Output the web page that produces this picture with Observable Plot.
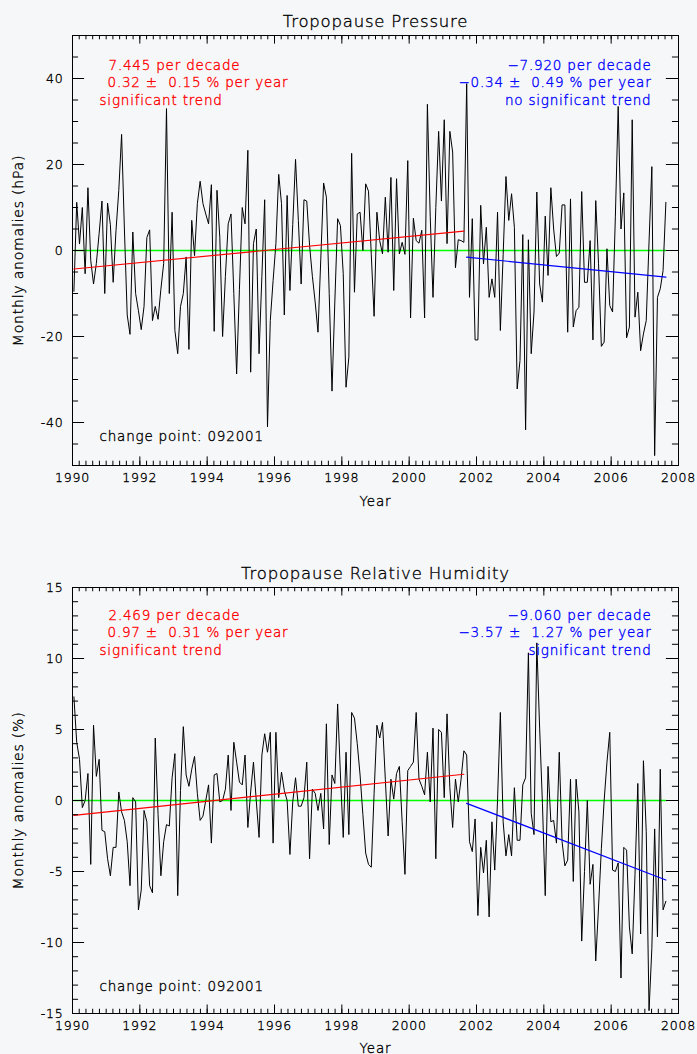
<!DOCTYPE html>
<html><head><meta charset="utf-8">
<script src="https://cdn.jsdelivr.net/npm/d3@7"></script>
<script src="https://cdn.jsdelivr.net/npm/@observablehq/plot@0.6"></script>
<style>
html,body{margin:0;padding:0;background:#f6f7f9;}
#chart{width:697px;}
svg{display:block;}
svg text{white-space:pre;letter-spacing:0.8px;}
</style></head><body><div id="chart"></div>
<script>
const startYear = 1990;
const changeIndex = 140; // Sep 2001
const xMajorTicks = [1990, 1992, 1994, 1996, 1998, 2000, 2002, 2004, 2006, 2008];
const pressureTicks = [-40, -20, 0, 20, 40];
const humidityTicks = [-15, -10, -5, 0, 5, 10, 15];

const pressure = [
  -9.5, 11.2, 1.5, 10, -5.4, 14.6, -2.3, -7.8, -3, 4, 11.5, -10,
  11, 6, -7.4, 4.6, 14, 27, 5, -15, -19.5, 4.3, -10, -14,
  -18.4, -13, 3, 4.8, -16.3, -13, -16, -9, -3, 33, -10, 8.9,
  -18.6, -24, -13, -10, -1.5, -23, 7, -1.2, 10.9, 16.1, 10.9, 8.5,
  6.2, 15.3, -18.8, 14, 3.1, -20, -6, 6.2, 8.5, -10, -28.7, -9,
  10, 6.2, 23.3, -28.3, 1.6, 5, -24, -6, 11.8, -41, -16.3, -7,
  1.6, 17.7, 10.9, -15, 12.8, -9.3, 6, 21.2, 7, -7.8, 11.8, 11.5,
  1.2, -6, -12, -19, -2, 15.7, 12.4, -10, -32.7, -12, 7.4, 5.8,
  -5.4, -31.8, -24.8, 22.6, -9.7, 8.5, 8.9, 0, 15.5, 13.8, -1, -15.3,
  8.9, 2.3, -0.8, 12.4, -0.4, 17, -9.3, 16.7, -0.8, 1.9, -0.9, 20.9,
  -15.7, 7.5, 2.3, 1.7, 4.7, -15.7, 34, 8, -10.9, 10, 27.7, 11.5,
  30.4, 1.6, 27.7, 22.9, -4, 2.5, 2.3, 1.9, 38.8, -10.9, 7.4, -20.8,
  -20.8, 10.5, -3.1, 5.4, -10.9, -6.6, -10.9, 8.9, -18.6, -1, 17.2, 7,
  13.2, 5.4, -32.2, -25.6, 3.7, -41.7, 2.5, -24, -14.3, 13.6, -7.8, -12,
  8, -5.8, 14.6, 5, -1.4, -0.6, 10.6, 10.6, -19, 12, -17.8, -14,
  -13.2, 13.7, -7.4, -7.4, 2.3, -20.8, 11.6, -3.1, -22.3, -21.3, 0.4, -12.8,
  -14.3, 8, 33.5, 5, 13.4, -20.3, -17.8, 30.4, -15.5, -9.7, -23.3, -19.4,
  -16.3, 2, 19.5, -47.7, -10.9, -8.9, -4.7, 11.2
];

const humidity = [
  7.3, 4.1, 2.9, -0.5, 0, 1.9, -4.5, 5.3, 1.7, 2.9, -2.1, -2.2,
  -4.1, -5.3, -3.3, -3.3, 0.6, -0.8, -1.4, -2.9, -6, 0.2, -0.1, -7.7,
  -6.3, -0.7, -1.5, -6, -6.5, 4.4, -1, -5.3, -2.9, -1.7, -1.8, 1.6,
  3.3, -6.7, 0.7, 5.2, 1.8, 1, 2.2, 3.1, 0.5, -1.4, -1.1, 0,
  1.1, -3, 1.8, 1.9, -0.1, 0, 0.8, 3.2, -0.7, 4.1, 2.7, 1.3,
  1.1, 3.2, -1.9, 0.6, 2.7, 0, -2.6, 3.2, 4.7, 3.4, 4.8, -3,
  4.8, 0.2, 2, 0.7, 0, -3.8, -0.1, 1.6, -0.4, -0.4, 0.2, 2.7,
  -4.1, 0.8, 0.5, -0.7, 0.5, -2, 5.4, -3.1, 1.8, 1.2, 6.8, 1.8,
  -2.6, 3.4, -2.4, 6.2, 5.8, 4, 1.8, -1, -3.7, -4.5, -4.7, 0.5,
  5.3, 4.4, 5.5, 1.5, -2.5, 1.5, 0.1, 1.9, 2.4, -1.5, -5.2, 2.1,
  2.4, 2.7, 6.2, 1.5, 1, 0.4, 3.4, -0.1, 5.1, -4.1, 5, 4.8,
  0.2, 6.1, 0.9, -1.9, 1.5, -0.1, 1.5, 3.5, 3.2, -2.9, -3.6, -1.3,
  -8.1, -3.3, -5.1, -2.8, -8.2, -1.5, -4.9, 0, 6.2, -1.5, -3.9, -2.4,
  -3.9, 0.9, -2.8, -2.8, 1.1, 1.6, 10.4, -0.9, -2.4, 11.1, 5.1, -0.2,
  -6.7, 2.4, -1.5, -1.4, -3, 3.4, -2.9, -4.6, -4.2, 1.5, -5.7, 1.5,
  -0.8, -9.9, -5, 0, -5.9, -4.5, -11.3, -7.5, -3.4, 0, 2.7, 4.8,
  -4.9, -5, -4.4, -12.5, -3.3, -3.5, -8.9, -10.8, -5.2, 1.2, -9.4, 2.8,
  -2.2, -14.8, -10.4, -2, -9.6, 2.2, -7.7, -7.1
];

// trend line end values (first / last month of each segment)
const pressureTrendBefore = [-4.3, 4.5];
const pressureTrendAfter = [-1.55, -6.2];
const humidityTrendBefore = [-1.05, 1.85];
const humidityTrendAfter = [-0.2, -5.6];

const pressureRedText = ["7.445 per decade", "0.32 \u00b1  0.15 % per year", "significant trend"];
const pressureBlueText = ["\u22127.920 per decade", "\u22120.34 \u00b1  0.49 % per year", "no significant trend"];
const humidityRedText = ["2.469 per decade", "0.97 \u00b1  0.31 % per year", "significant trend"];
const humidityBlueText = ["\u22129.060 per decade", "\u22123.57 \u00b1  1.27 % per year", "significant trend"];
const changePointText = "change point: 092001";

const FONT = "'DejaVu Sans', 'Noto Sans', sans-serif";

function panel(cfg) {
  const W = 697, H = 527, ml = 72, mr = 19;
  const {values, yDomain, yTicks, yMinorStep, yLabel, title, red, blue, tr1, tr2, mt, mb, annotTop, changeDy, yearDy} = cfg;
  const iw = W - ml - mr, ih = H - mt - mb;
  const pts = values.map((v, i) => ({t: startYear + (i + 0.5) / 12, v}));
  const seg1 = pts.slice(0, changeIndex), seg2 = pts.slice(changeIndex);
  const trend1 = [{t: seg1[0].t, v: tr1[0]}, {t: seg1[seg1.length - 1].t, v: tr1[1]}];
  const trend2 = [{t: seg2[0].t, v: tr2[0]}, {t: seg2[seg2.length - 1].t, v: tr2[1]}];
  const zero = [{t: pts[0].t, v: 0}, {t: pts[pts.length - 1].t, v: 0}];
  const xMinor = d3.range(0, 91).map(k => startYear + k * 0.2);
  const nY = Math.round((yDomain[1] - yDomain[0]) / yMinorStep);
  const yMinor = d3.range(0, nY + 1).map(k => yDomain[0] + k * yMinorStep);
  const xMaj = 0.02 * ih, xMin = 0.01 * ih, yMaj = 0.02 * iw, yMin = 0.01 * iw;
  const tk = {stroke: "#000", strokeWidth: 1};
  const annot = 13.5;
  const sw = 0.35;
  const txt = (color) => ({fill: color, stroke: color, strokeWidth: sw});
  const marks = [
    Plot.line(zero, {x: "t", y: "v", stroke: "#00ff00", strokeWidth: 1.4}),
    Plot.line(pts, {x: "t", y: "v", stroke: "#000", strokeWidth: 1}),
    Plot.line(trend1, {x: "t", y: "v", stroke: "#ff0000", strokeWidth: 1.2}),
    Plot.line(trend2, {x: "t", y: "v", stroke: "#0000ff", strokeWidth: 1.2}),
    Plot.frame({stroke: "#000", strokeWidth: 1}),
    Plot.tickX(xMinor, {x: d => d, insetTop: ih - xMin, ...tk}),
    Plot.tickX(xMinor, {x: d => d, insetBottom: ih - xMin, ...tk}),
    Plot.tickX(xMajorTicks, {x: d => d, insetTop: ih - xMaj, ...tk}),
    Plot.tickX(xMajorTicks, {x: d => d, insetBottom: ih - xMaj, ...tk}),
    Plot.tickY(yMinor, {y: d => d, insetRight: iw - yMin, ...tk}),
    Plot.tickY(yMinor, {y: d => d, insetLeft: iw - yMin, ...tk}),
    Plot.tickY(yTicks, {y: d => d, insetRight: iw - yMaj, ...tk}),
    Plot.tickY(yTicks, {y: d => d, insetLeft: iw - yMaj, ...tk}),
    Plot.axisX({ticks: xMajorTicks, tickSize: 0, tickPadding: 8, tickFormat: d => String(d), label: null, fontSize: 12.5, fill: "#000", textStroke: "#000", textStrokeWidth: sw}),
    Plot.axisY({ticks: yTicks, tickSize: 0, tickPadding: 9, tickFormat: d => String(d), label: null, fontSize: 12.5, fill: "#000", textStroke: "#000", textStrokeWidth: sw}),
    Plot.text([title], {frameAnchor: "top", lineAnchor: "bottom", dy: -9, fontSize: 16.5, ...txt("#000")}),
    Plot.text(["Year"], {frameAnchor: "bottom", lineAnchor: "bottom", dy: yearDy, fontSize: 13.5, ...txt("#000")}),
    Plot.text([yLabel], {frameAnchor: "left", dx: -54, rotate: -90, textAnchor: "middle", lineAnchor: "middle", fontSize: 14, ...txt("#000")}),
    Plot.text([red[0]], {frameAnchor: "top-left", textAnchor: "start", lineAnchor: "bottom", dx: 36, dy: annotTop, fontSize: annot, ...txt("#ff0000")}),
    Plot.text([red[1]], {frameAnchor: "top-left", textAnchor: "start", lineAnchor: "bottom", dx: 35, dy: annotTop + 17.5, fontSize: annot, ...txt("#ff0000")}),
    Plot.text([red[2]], {frameAnchor: "top-left", textAnchor: "start", lineAnchor: "bottom", dx: 27, dy: annotTop + 35, fontSize: annot, ...txt("#ff0000")}),
    Plot.text([blue[0]], {frameAnchor: "top-right", textAnchor: "end", lineAnchor: "bottom", dx: -27, dy: annotTop, fontSize: annot, ...txt("#0000ff")}),
    Plot.text([blue[1]], {frameAnchor: "top-right", textAnchor: "end", lineAnchor: "bottom", dx: -27, dy: annotTop + 17.5, fontSize: annot, ...txt("#0000ff")}),
    Plot.text([blue[2]], {frameAnchor: "top-right", textAnchor: "end", lineAnchor: "bottom", dx: -27, dy: annotTop + 35, fontSize: annot, ...txt("#0000ff")}),
    Plot.text([changePointText], {frameAnchor: "bottom-left", textAnchor: "start", lineAnchor: "bottom", dx: 27, dy: changeDy, fontSize: annot, ...txt("#000")})
  ];
  return Plot.plot({
    width: W, height: H,
    marginLeft: ml, marginRight: mr, marginTop: mt, marginBottom: mb,
    x: {domain: [1990, 2008]},
    y: {domain: yDomain},
    style: {background: "transparent", fontFamily: FONT, fontWeight: 300, overflow: "visible", color: "#000"},
    marks
  });
}

const topPanel = panel({
  values: pressure, yDomain: [-50, 50], yTicks: pressureTicks, yMinorStep: 5,
  yLabel: "Monthly anomalies (hPa)", title: "Tropopause Pressure",
  red: pressureRedText, blue: pressureBlueText,
  tr1: pressureTrendBefore, tr2: pressureTrendAfter,
  mt: 35, mb: 62, annotTop: 34, changeDy: -25, yearDy: 40
});
const bottomPanel = panel({
  values: humidity, yDomain: [-15, 15], yTicks: humidityTicks, yMinorStep: 1,
  yLabel: "Monthly anomalies (%)", title: "Tropopause Relative Humidity",
  red: humidityRedText, blue: humidityBlueText,
  tr1: humidityTrendBefore, tr2: humidityTrendAfter,
  mt: 60, mb: 41, annotTop: 32, changeDy: -23, yearDy: 39
});
const chartEl = document.getElementById("chart");
chartEl.appendChild(topPanel);
chartEl.appendChild(bottomPanel);
</script></body></html>
